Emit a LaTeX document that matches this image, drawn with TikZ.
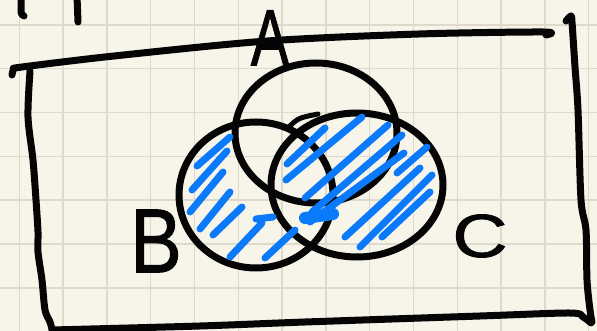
\documentclass[tikz,border=0pt]{standalone}
\usepackage{fontspec}
\setmainfont{Liberation Sans}
\usepackage{tikz}
\definecolor{paper}{RGB}{247,245,233}
\definecolor{gridline}{RGB}{221,218,204}
\definecolor{pen}{RGB}{5,5,5}
\definecolor{marker}{RGB}{10,122,250}

\begin{document}
\begin{tikzpicture}[
  x=1pt, y=-1pt,
  ink/.style={draw=pen, line width=7pt, line cap=round, line join=round},
  hatch/.style={draw=marker, line width=7pt, line cap=round, line join=round},
  grid line/.style={draw=gridline, line width=1.4pt},
  letter/.style={inner sep=0pt, text=pen, font=\addfontfeatures{FakeBold=1.2}}
]
\fill[paper] (0,0) rectangle (597,331);
\useasboundingbox (0,0) rectangle (597,331);
\clip (0,0) rectangle (597,331);

\foreach \gx in {0,...,13}
  \draw[grid line] ({19.3+43.8*\gx},0) -- ({19.3+43.8*\gx},331);
\foreach \gy in {0,...,6}
  \draw[grid line] (0,{25+43.8*\gy}) -- (597,{25+43.8*\gy});

\draw[ink] (21,-4) -- (21,12) to[bend right=30] (24,16);
\draw[ink] (77,-4) -- (78,22);

\draw[ink] plot[smooth, tension=0.5] coordinates {(12,75) (14,69) (22,67) (114,56) (267,41) (419,34) (543,32) (546,35)};
\draw[ink] plot[smooth, tension=0.5] coordinates {(30,71) (28,117) (33,160) (36,200) (38,232) (38,252) (42,280) (45,310) (50,322) (53,333)};
\draw[ink] plot[smooth, tension=0.5] coordinates {(52,330) (200,326) (305,322) (480,316) (570,313) (583,317) (591,323)};
\draw[ink] plot[smooth, tension=0.5] coordinates {(566,21) (571,16) (572,22) (575,67) (578,110) (581,200) (586,230) (587,280) (590,310) (592,322)};

\draw[ink] (316,133) ellipse [x radius=81pt, y radius=70pt];
\draw[ink] (256,195) ellipse [x radius=77pt, y radius=73pt];
\draw[ink] (357,185) ellipse [x radius=86pt, y radius=72pt];
\draw[ink, line width=5pt] (288,128) .. controls (298,118) .. (318,114);

\draw[hatch] (230,137) -- (197,166) (227,151) -- (192,190) (223,172) -- (190,212)
  (230,192) -- (200,229) (242,207) -- (213,235) (256,219) -- (273,217)
  (262,223) -- (230,257) (295,230) -- (265,258);
\draw[hatch] (325,128) -- (287,164) (362,117) -- (286,180) (388,125) -- (305,198)
  (402,135) -- (312,212) (404,153) -- (310,222) (427,147) -- (397,173)
  (420,168) -- (345,237) (432,175) -- (360,247) (430,192) -- (382,237);
\draw[hatch, line width=12pt] (305,218) -- (333,214);

\node[letter] (labelA) at (270,38) {\fontsize{80}{80}\selectfont\scalebox{0.72}[1]{A}};
\node[letter] (labelB) at (156,241) {\fontsize{91}{91}\selectfont\scalebox{0.85}[1]{B}};
\node[letter] (labelC) at (480,236) {\fontsize{61}{61}\selectfont\scalebox{1.25}[1]{C}};
\end{tikzpicture}
\end{document}
